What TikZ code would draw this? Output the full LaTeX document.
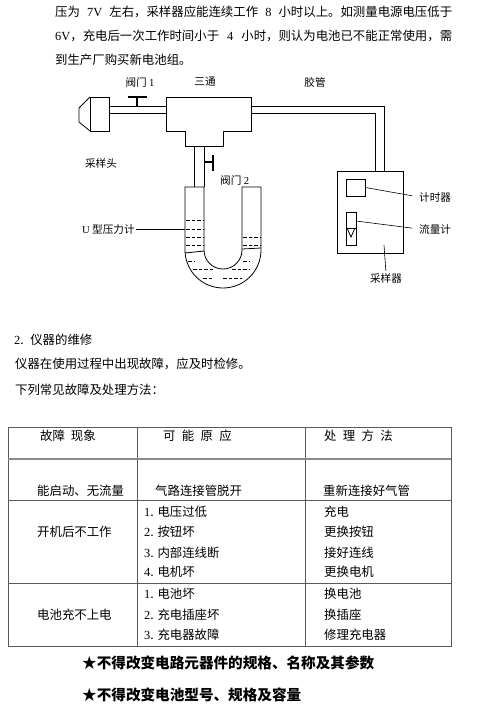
\documentclass[tikz,border=0pt]{standalone}
\usepackage{fontspec}
\setmainfont{Liberation Serif}
\newfontfamily\cjk{Noto Sans CJK SC}
\newcommand{\lat}[1]{{\rmfamily #1}}
\newcommand{\fwcomma}{\char"FF0C\relax}
\newcommand{\fwcolon}{\char"FF1A\relax}
\usetikzlibrary{arrows.meta, positioning, calc}

\begin{document}
\begin{tikzpicture}[
    x=1pt, y=-1pt,
    pipe/.style={draw, line width=0.8pt},
    valve/.style={draw, line width=1.6pt},
    level/.style={draw, line width=0.5pt, dash pattern=on 3.5pt off 2pt},
    leader/.style={draw, line width=0.6pt},
    tabline/.style={draw, line width=0.7pt, black!65},
    body/.style={inner sep=0pt, anchor=west, font=\cjk\fontsize{12.4}{14}\selectfont},
    lab/.style={inner sep=0pt, font=\cjk\fontsize{10.6}{12}\selectfont},
    note/.style={inner sep=0pt, anchor=west, font=\cjk\bfseries\fontsize{14.6}{16}\selectfont}
]
\useasboundingbox (0,0) rectangle (479,705);

% Top paragraph
\node[body] (line1) at (55,12) {\makebox[397pt][s]{压为 \lat{7V} 左右\fwcomma 采样器应能连续工作 \lat{8} 小时以上。如测量电源电压低于}};
\node[body] (line2) at (55,36) {\makebox[397pt][s]{\lat{6V}\fwcomma 充电后一次工作时间小于 \lat{4} 小时\fwcomma 则认为电池已不能正常使用\fwcomma 需}};
\node[body] (line3) at (55,60) {到生产厂购买新电池组。};

% Sampling head and pipes
\draw[pipe] (90,97) -- (79,108) -- (79,122) -- (90,131);
\draw[pipe] (90,97) rectangle (109,131);
\draw[pipe] (109,106) -- (166,106);
\draw[pipe] (109,113) -- (166,113);
\draw[pipe] (166,97) -- (251,97) -- (251,131) -- (223,131) -- (223,146) -- (185,146) -- (185,131) -- (166,131) -- cycle;
\draw[pipe] (251,106) -- (384,106) -- (384,171);
\draw[pipe] (251,113) -- (375,113) -- (375,171);

% Valves
\draw[valve] (128,97) -- (147,97);
\draw[valve] (137,97) -- (137,106);
\draw[valve] (213,155) -- (213,171);
\draw[valve] (204,162) -- (213,162);

% U gauge
\draw[pipe] (194,146) -- (194,187);
\draw[pipe] (204,146) -- (204,187);
\draw[pipe] (185,250) -- (185,187) -- (204,187) -- (204,250) arc[start angle=180, end angle=0, radius=19] -- (242,187) -- (261,187) -- (261,250) arc[start angle=0, end angle=180, radius=38];
\draw[pipe] (185,253) -- (204,251);
\draw[pipe] (242,249) -- (261,248);
\foreach \ylevel in {220,229,237,245} {
    \draw[level] (186,\ylevel) -- (204,\ylevel);
}
\foreach \ylevel in {237,245} {
    \draw[level] (243,\ylevel) -- (261,\ylevel);
}
\draw[level] (188,261) -- (194,261);
\draw[level] (243,261) -- (250,261);
\draw[level] (193,269) -- (213,269);
\draw[level] (232,269) -- (250,269);
\draw[level] (203,278) -- (213,278);
\draw[level] (223,278) -- (242,278);

% Sampler
\node[pipe, minimum width=66pt, minimum height=82pt, inner sep=0pt] (sampler) at (370,212) {};
\node[pipe, minimum width=19pt, minimum height=17pt, inner sep=0pt] (timer) at (355.5,187.5) {};
\node[pipe, minimum width=10pt, minimum height=33pt, inner sep=0pt] (flowmeter) at (351,228.5) {};
\draw[pipe] (346,228) -- (356,228);
\draw[pipe] (347,228) -- (351,237) -- (355,228);
\coordinate (flowtap) at (356,221);
\coordinate (samplertap) at (384,245);
\coordinate (ugaugewall) at (185,229);

% Labels
\node[lab] (valve1label) at (140,82) {阀门 \lat{1}};
\node[lab] (teelabel) at (205,82) {三通};
\node[lab] (hoselabel) at (315,82) {胶管};
\node[lab] (headlabel) at (101,163) {采样头};
\node[lab, anchor=west] (valve2label) at (220,180) {阀门 \lat{2}};
\node[lab, anchor=west] (ugaugelabel) at (82,229) {\lat{U} 型压力计};
\node[lab, anchor=west] (timerlabel) at (419,197) {计时器};
\node[lab, anchor=west] (flowlabel) at (419,229) {流量计};
\node[lab] (samplerlabel) at (386,278) {采样器};

% Leaders
\draw[leader, shorten <=1pt] (ugaugelabel.east) -- (ugaugewall);
\draw[leader, shorten >=7pt] (timer.east) -- (timerlabel.west);
\draw[leader, shorten >=7pt] (flowtap) -- (flowlabel.west);
\draw[leader, shorten >=2pt] (samplertap) -- (samplerlabel.north);

% Section text
\node[body] (section) at (14,340) {\lat{2}.\hspace{6.5pt}仪器的维修};
\node[body] (intro) at (15,364) {仪器在使用过程中出现故障\fwcomma 应及时检修。};
\node[body] (listhead) at (15,390) {下列常见故障及处理方法\fwcolon};

% Table
\draw[tabline] (8,427) rectangle (451,646);
\draw[tabline] (137,427) -- (137,646);
\draw[tabline] (305,427) -- (305,646);
\draw[tabline, line width=1.1pt, black!45] (8,459) -- (451,459);
\draw[tabline] (8,500) -- (451,500);
\draw[tabline] (8,583) -- (451,583);

\node[body] (headfault) at (40,436) {故障\hspace{6pt}现象};
\node[body] (headcause) at (163,436) {可\hspace{6.3pt}能\hspace{6.3pt}原\hspace{6.3pt}应};
\node[body] (headfix) at (324,436) {处\hspace{6.3pt}理\hspace{6.3pt}方\hspace{6.3pt}法};

\node[body] (fault1) at (37,491) {能启动、无流量};
\node[body] (cause1) at (155,491) {气路连接管脱开};
\node[body] (fix1) at (323,491) {重新连接好气管};

\node[body] (fault2) at (37,532) {开机后不工作};
\node[body] (cause2a) at (144,512) {\lat{1}. 电压过低};
\node[body] (cause2b) at (144,532) {\lat{2}. 按钮坏};
\node[body] (cause2c) at (144,553) {\lat{3}. 内部连线断};
\node[body] (cause2d) at (144,572) {\lat{4}. 电机坏};
\node[body] (fix2a) at (324,512) {充电};
\node[body] (fix2b) at (324,532) {更换按钮};
\node[body] (fix2c) at (324,553) {接好连线};
\node[body] (fix2d) at (324,572) {更换电机};

\node[body] (fault3) at (37,615) {电池充不上电};
\node[body] (cause3a) at (144,594) {\lat{1}. 电池坏};
\node[body] (cause3b) at (144,615) {\lat{2}. 充电插座坏};
\node[body] (cause3c) at (144,635) {\lat{3}. 充电器故障};
\node[body] (fix3a) at (324,594) {换电池};
\node[body] (fix3b) at (324,615) {换插座};
\node[body] (fix3c) at (324,635) {修理充电器};

% Notes
\node[note] (note1) at (82,663) {★不得改变电路元器件的规格、名称及其参数};
\node[note] (note2) at (82,695) {★不得改变电池型号、规格及容量};

\end{tikzpicture}
\end{document}
